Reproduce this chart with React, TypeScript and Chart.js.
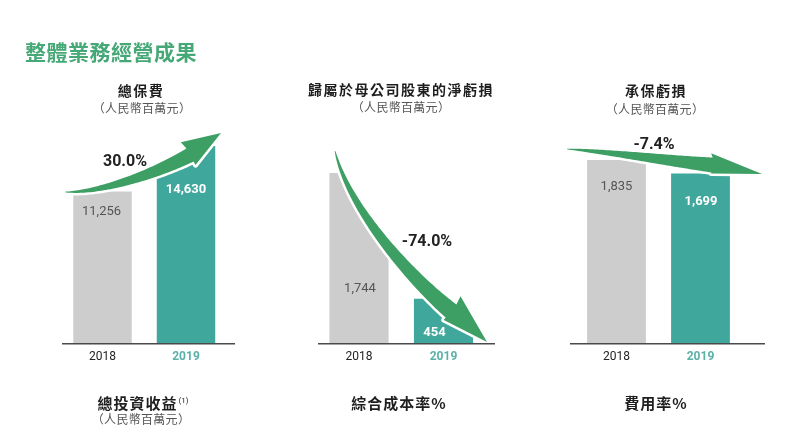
import React, { useEffect, useRef } from "react";
import { Chart, registerables } from "chart.js";

Chart.register(...registerables);

// ---------------- data ----------------
const years = ["2018", "2019"];
const grossPremiums = [11256, 14630];
const netLossToShareholders = [1744, 454];
const underwritingLoss = [1835, 1699];

const pageTitle = "整體業務經營成果";
const topTitles = ["總保費", "歸屬於母公司股東的淨虧損", "承保虧損"];
const unitText = "（人民幣百萬元）";
const bottomTitles = ["總投資收益", "綜合成本率%", "費用率%"];
const footnoteMark = "(1)";

// ---------------- style ----------------
const W = 800;
const H = 443;
const GRAY = "#cdcdcd";
const TEAL = "#3fa79c";
const GREEN = "#3d9f63";
const TITLE_GREEN = "#46a877";
const YEAR_TEAL = "#5ab1a8";
const CJK = "'Noto Sans CJK TC', 'Noto Sans CJK SC', sans-serif";
const NUM = "Roboto, 'Noto Sans', sans-serif";
const BASE_Y = 350;
const TICK_SIZE = 12;
const TICK_PAD = 7;
const AXIS_H = TICK_SIZE * 1.2 + TICK_PAD;

type Pt = [number, number];
interface ArrowCfg {
  p0: Pt;
  c1: Pt;
  c2: Pt;
  p3: Pt;
  w1: number;
  pw: number;
  tip: Pt;
  ob: number;
  ib: number;
}
interface PanelCfg {
  values: number[];
  x0: number;
  w: number;
  caLeft: number;
  caRight: number;
  caTop: number;
  baseL: number;
  baseR: number;
  arrow: ArrowCfg;
  pct: Pt;
  labelDy: [number, number];
  labelDx: [number, number];
}

const panels: PanelCfg[] = [
  {
    values: grossPremiums,
    x0: 0,
    w: 265,
    caLeft: 60.75,
    caRight: 227.75,
    caTop: 146,
    baseL: 62,
    baseR: 235,
    arrow: { p0: [65, 192], c1: [100, 193], c2: [155, 174], p3: [190, 155], w1: 15, pw: 0.9, tip: [221, 133], ob: 8, ib: 4 },
    pct: [125, 162],
    labelDy: [20, 44],
    labelDx: [-1, 0],
  },
  {
    values: netLossToShareholders,
    x0: 265,
    w: 265,
    caLeft: 316.75,
    caRight: 485.75,
    caTop: 173,
    baseL: 318,
    baseR: 495,
    arrow: { p0: [335, 151], c1: [349, 210], c2: [413, 280], p3: [451, 311], w1: 17, pw: 0.8, tip: [487, 342], ob: 9, ib: 3 },
    pct: [427, 242],
    labelDy: [116, 34],
    labelDx: [1, -9],
  },
  {
    values: underwritingLoss,
    x0: 530,
    w: 270,
    caLeft: 574.5,
    caRight: 742.5,
    caTop: 160,
    baseL: 570,
    baseR: 765,
    arrow: { p0: [567, 149], c1: [610, 152], c2: [670, 161], p3: [712, 165], w1: 15, pw: 0.9, tip: [762, 174], ob: 4, ib: 1 },
    pct: [654, 145],
    labelDy: [27, 28.5],
    labelDx: [0, 0.5],
  },
];

function bez(a: number, b: number, c: number, d: number, s: number) {
  const u = 1 - s;
  return u * u * u * a + 3 * u * u * s * b + 3 * u * s * s * c + s * s * s * d;
}
function dbez(a: number, b: number, c: number, d: number, s: number) {
  const u = 1 - s;
  return 3 * u * u * (b - a) + 6 * u * s * (c - b) + 3 * s * s * (d - c);
}

function arrowGeom(A: ArrowCfg, ox: number) {
  const N = 60;
  const outer: Pt[] = [];
  const inner: Pt[] = [];
  let nx = 0,
    ny = 0,
    tx = 1,
    ty = 0;
  for (let i = 0; i <= N; i++) {
    const s = i / N;
    const x = bez(A.p0[0], A.c1[0], A.c2[0], A.p3[0], s) - ox;
    const y = bez(A.p0[1], A.c1[1], A.c2[1], A.p3[1], s);
    tx = dbez(A.p0[0], A.c1[0], A.c2[0], A.p3[0], s);
    ty = dbez(A.p0[1], A.c1[1], A.c2[1], A.p3[1], s);
    const L = Math.hypot(tx, ty) || 1;
    tx /= L;
    ty /= L;
    nx = ty;
    ny = -tx;
    const w = 0.6 + (A.w1 - 0.6) * Math.pow(s, A.pw);
    outer.push([x + (nx * w) / 2, y + (ny * w) / 2]);
    inner.push([x - (nx * w) / 2, y - (ny * w) / 2]);
  }
  const bx = A.p3[0] - ox;
  const by = A.p3[1];
  const ob: Pt = [bx + nx * (A.w1 / 2 + A.ob) - tx * 2, by + ny * (A.w1 / 2 + A.ob) - ty * 2];
  const ib: Pt = [bx - nx * (A.w1 / 2 + A.ib), by - ny * (A.w1 / 2 + A.ib)];
  const tip: Pt = [A.tip[0] - ox, A.tip[1]];
  return { outer, inner, ob, ib, tip };
}

function fmt(v: number) {
  return v.toLocaleString("en-US");
}

function overlayPlugin(cfg: PanelCfg) {
  return {
    id: "overlay",
    afterDatasetsDraw(chart: any) {
      const ctx: CanvasRenderingContext2D = chart.ctx;
      const ox = cfg.x0;
      const g = arrowGeom(cfg.arrow, ox);

      // erase bar parts above/outside the arrow
      ctx.save();
      ctx.globalCompositeOperation = "destination-out";
      ctx.beginPath();
      ctx.moveTo(g.outer[0][0], 0);
      g.outer.forEach((p) => ctx.lineTo(p[0], p[1]));
      ctx.lineTo(g.ob[0], g.ob[1]);
      ctx.lineTo(g.tip[0], g.tip[1]);
      ctx.lineTo(cfg.w, g.tip[1]);
      ctx.lineTo(cfg.w, 0);
      ctx.closePath();
      ctx.fillStyle = "#000";
      ctx.fill();
      ctx.restore();

      // arrow
      ctx.save();
      ctx.beginPath();
      g.outer.forEach((p, i) => (i === 0 ? ctx.moveTo(p[0], p[1]) : ctx.lineTo(p[0], p[1])));
      ctx.lineTo(g.ob[0], g.ob[1]);
      ctx.lineTo(g.tip[0], g.tip[1]);
      ctx.lineTo(g.ib[0], g.ib[1]);
      for (let i = g.inner.length - 1; i >= 0; i--) ctx.lineTo(g.inner[i][0], g.inner[i][1]);
      ctx.closePath();
      ctx.lineJoin = "round";
      ctx.strokeStyle = "#ffffff";
      ctx.lineWidth = 5;
      ctx.stroke();
      ctx.fillStyle = GREEN;
      ctx.fill();
      ctx.restore();

      // baseline
      const ca = chart.chartArea;
      ctx.save();
      ctx.strokeStyle = "#4a4a4a";
      ctx.lineWidth = 1.5;
      ctx.beginPath();
      ctx.moveTo(cfg.baseL - ox, ca.bottom + 0.75);
      ctx.lineTo(cfg.baseR - ox, ca.bottom + 0.75);
      ctx.stroke();
      ctx.restore();

      // value labels
      const meta = chart.getDatasetMeta(0);
      ctx.save();
      ctx.textAlign = "center";
      ctx.textBaseline = "middle";
      meta.data.forEach((bar: any, i: number) => {
        const { x, y } = bar.getProps(["x", "y"], true);
        if (i === 0) {
          ctx.fillStyle = "#555555";
          ctx.font = `400 13px ${NUM}`;
        } else {
          ctx.fillStyle = "#ffffff";
          ctx.font = `700 13px ${NUM}`;
        }
        ctx.fillText(fmt(cfg.values[i]), x + cfg.labelDx[i], y + cfg.labelDy[i]);
      });

      // change percentage
      const v = cfg.values;
      const pct = (((v[1] - v[0]) / v[0]) * 100).toFixed(1) + "%";
      ctx.fillStyle = "#222222";
      ctx.font = `700 16px ${NUM}`;
      ctx.fillText(pct, cfg.pct[0] - ox, cfg.pct[1]);
      ctx.restore();
    },
  };
}

function Panel({ cfg }: { cfg: PanelCfg }) {
  const ref = useRef<HTMLCanvasElement>(null);
  useEffect(() => {
    if (!ref.current) return;
    const chart = new Chart(ref.current, {
      type: "bar",
      data: {
        labels: years,
        datasets: [
          {
            data: cfg.values,
            backgroundColor: [GRAY, TEAL],
            borderWidth: 0,
            barPercentage: 0.7,
            categoryPercentage: 1,
          },
        ],
      },
      options: {
        responsive: false,
        animation: false,
        devicePixelRatio: 1,
        layout: {
          padding: {
            left: cfg.caLeft - cfg.x0,
            right: cfg.x0 + cfg.w - cfg.caRight,
            top: cfg.caTop,
            bottom: H - BASE_Y - AXIS_H,
          },
        },
        plugins: {
          legend: { display: false },
          tooltip: { enabled: false },
          title: { display: false },
        },
        scales: {
          x: {
            display: true,
            grid: { display: false, drawTicks: false },
            border: { display: false },
            ticks: {
              padding: TICK_PAD,
              autoSkip: false,
              maxRotation: 0,
              color: (c: any) => (c.index === 1 ? YEAR_TEAL : "#222222"),
              font: (c: any) => ({ family: NUM, size: TICK_SIZE, weight: c.index === 1 ? "bold" : "normal" }),
            },
          },
          y: { display: false, min: 0, max: Math.max(...cfg.values) },
        },
      } as any,
      plugins: [overlayPlugin(cfg)],
    });
    return () => chart.destroy();
  }, [cfg]);
  return (
    <canvas
      ref={ref}
      width={cfg.w}
      height={H}
      style={{ position: "absolute", left: cfg.x0, top: 0, width: cfg.w, height: H }}
    />
  );
}

function Label({
  x,
  y,
  children,
  style,
}: {
  x: number;
  y: number;
  children: React.ReactNode;
  style?: React.CSSProperties;
}) {
  return (
    <div
      style={{
        position: "absolute",
        left: x,
        top: y,
        transform: "translate(-50%, -50%)",
        whiteSpace: "nowrap",
        lineHeight: 1,
        ...style,
      }}
    >
      {children}
    </div>
  );
}

const headStyle: React.CSSProperties = {
  fontFamily: CJK,
  fontWeight: 700,
  fontSize: 14,
  letterSpacing: 1.5,
  color: "#1e1e1e",
};
const unitStyle: React.CSSProperties = {
  fontFamily: CJK,
  fontWeight: 400,
  fontSize: 12,
  letterSpacing: 0.3,
  color: "#555555",
};
const captionStyle: React.CSSProperties = {
  fontFamily: CJK,
  fontWeight: 700,
  fontSize: 15,
  letterSpacing: 1,
  color: "#1e1e1e",
};

const topTitlePos: Pt[] = [
  [141, 90],
  [401, 89],
  [656, 90],
];
const unitPos: Pt[] = [
  [142, 108],
  [401, 107],
  [655, 109],
];
const bottomPos: Pt[] = [
  [143, 402],
  [399, 402],
  [656, 402],
];

export default function App() {
  return (
    <div
      style={{
        position: "relative",
        width: W,
        height: H,
        background: "#ffffff",
        overflow: "hidden",
      }}
    >
      <style>{`body{margin:0;background:#fff;}`}</style>
      {panels.map((p, i) => (
        <Panel key={i} cfg={p} />
      ))}
      <div
        style={{
          position: "absolute",
          left: 25,
          top: 51,
          transform: "translateY(-50%)",
          fontFamily: CJK,
          fontWeight: 700,
          fontSize: 21,
          letterSpacing: 0.5,
          color: TITLE_GREEN,
          whiteSpace: "nowrap",
          lineHeight: 1,
        }}
      >
        {pageTitle}
      </div>
      {topTitles.map((t, i) => (
        <Label key={"t" + i} x={topTitlePos[i][0]} y={topTitlePos[i][1]} style={headStyle}>
          {t}
        </Label>
      ))}
      {unitPos.map((p, i) => (
        <Label key={"u" + i} x={p[0]} y={p[1]} style={unitStyle}>
          {unitText}
        </Label>
      ))}
      {bottomTitles.map((t, i) => (
        <Label key={"b" + i} x={bottomPos[i][0]} y={bottomPos[i][1]} style={captionStyle}>
          {t}
          {i === 0 ? (
            <sup style={{ fontSize: 8, fontWeight: 400, fontFamily: NUM, letterSpacing: 0, marginLeft: 1 }}>
              {footnoteMark}
            </sup>
          ) : null}
        </Label>
      ))}
      <Label x={141} y={419} style={unitStyle}>
        {unitText}
      </Label>
    </div>
  );
}
